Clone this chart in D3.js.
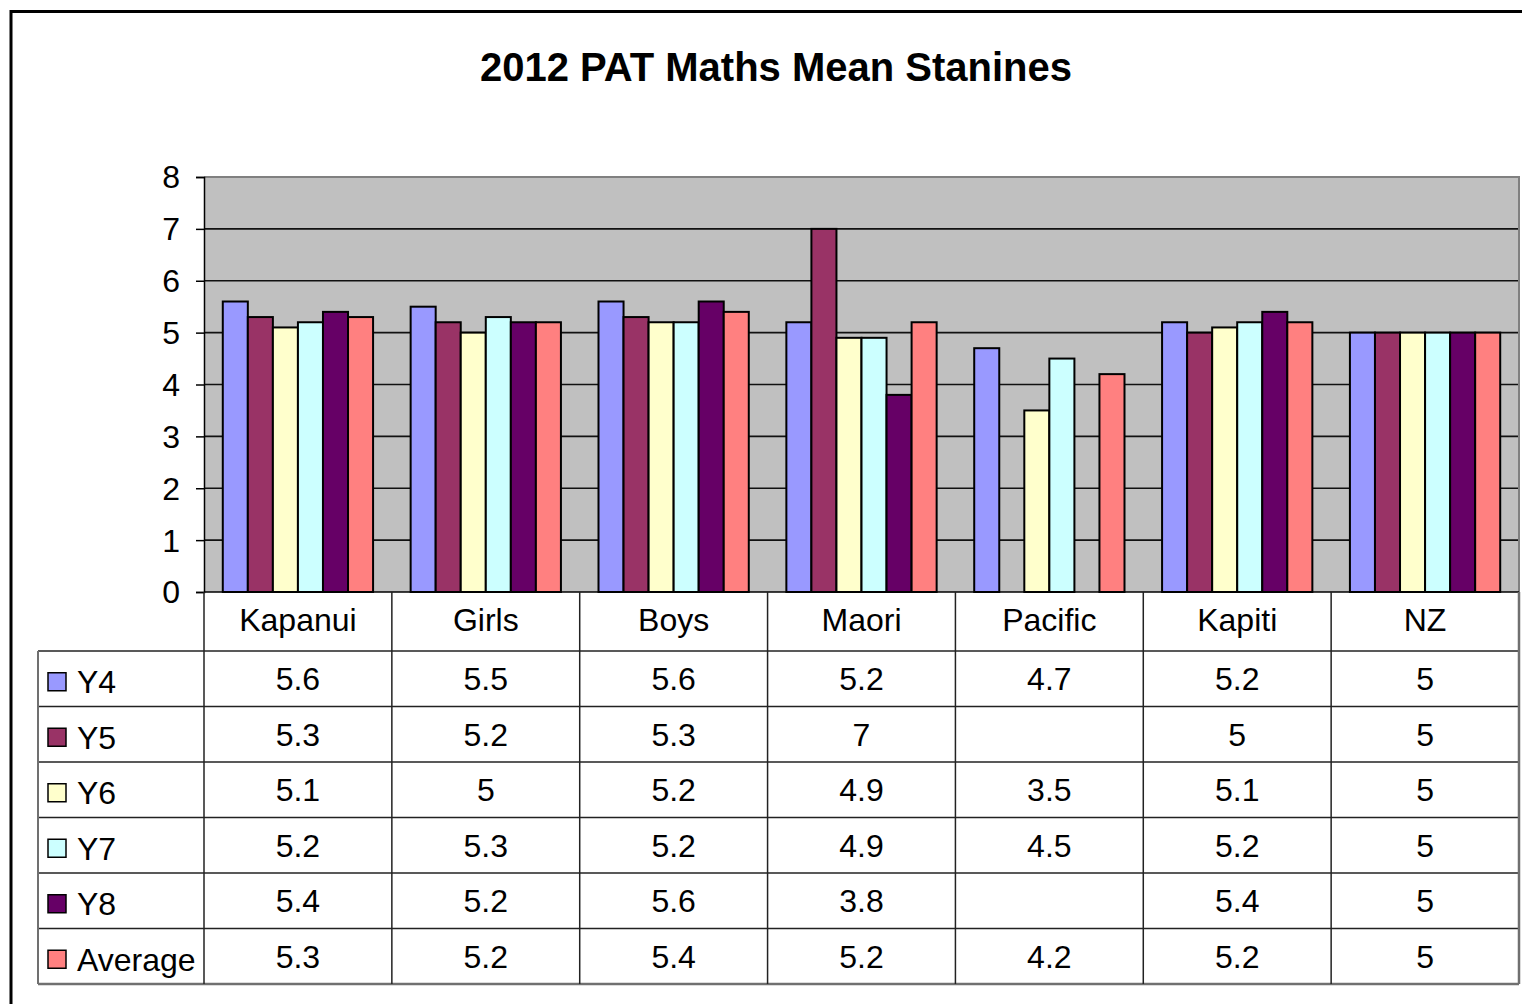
<!DOCTYPE html>
<html>
<head>
<meta charset="utf-8">
<script src="https://cdn.jsdelivr.net/npm/d3@7"></script>
<style>
  html, body { margin: 0; padding: 0; background: #fff; }
  svg { display: block; }
  text { font-family: "Liberation Sans", Arial, sans-serif; fill: #000; }
</style>
</head>
<body>
<svg id="chart" width="1522" height="1004"></svg>
<script>
// Mean stanines per group and year level (null = no data)
const categories = ["Kapanui", "Girls", "Boys", "Maori", "Pacific", "Kapiti", "NZ"];
const seriesNames = ["Y4", "Y5", "Y6", "Y7", "Y8", "Average"];
const y4 = [5.6, 5.5, 5.6, 5.2, 4.7, 5.2, 5];
const y5 = [5.3, 5.2, 5.3, 7, null, 5, 5];
const y6 = [5.1, 5, 5.2, 4.9, 3.5, 5.1, 5];
const y7 = [5.2, 5.3, 5.2, 4.9, 4.5, 5.2, 5];
const y8 = [5.4, 5.2, 5.6, 3.8, null, 5.4, 5];
const average = [5.3, 5.2, 5.4, 5.2, 4.2, 5.2, 5];
const yTicks = [0, 1, 2, 3, 4, 5, 6, 7, 8];
const colors = ["#9999FF", "#993366", "#FFFFCC", "#CCFFFF", "#660066", "#FF8080"];

const seriesValues = [y4, y5, y6, y7, y8, average];
const series = seriesNames.map((name, i) => ({ name, values: seriesValues[i], color: colors[i] }));

const svg = d3.select("#chart");

// Outer chart frame
svg.append("rect")
  .attr("x", 11).attr("y", 11.5)
  .attr("width", 1540).attr("height", 1020)
  .attr("fill", "#fff").attr("stroke", "#000").attr("stroke-width", 3);

// Title
svg.append("text")
  .attr("x", 776).attr("y", 81)
  .attr("text-anchor", "middle")
  .attr("font-size", 40).attr("font-weight", "bold")
  .text("2012 PAT Maths Mean Stanines");

const plot = { left: 204, right: 1519, top: 177, bottom: 592 };

const x = d3.scaleBand().domain(categories).range([plot.left, plot.right]).padding(0);
const xInner = d3.scaleBand().domain(seriesNames).range([0, x.bandwidth()])
  .paddingInner(0).paddingOuter(0.75);
const y = d3.scaleLinear().domain([0, 8]).range([plot.bottom, plot.top]);

// Plot background
svg.append("rect")
  .attr("x", plot.left).attr("y", plot.top)
  .attr("width", plot.right - plot.left).attr("height", plot.bottom - plot.top)
  .attr("fill", "#C0C0C0");

// Horizontal gridlines
svg.append("g")
  .selectAll("line")
  .data(yTicks.filter(t => t > 0 && t < 8))
  .join("line")
  .attr("x1", plot.left).attr("x2", plot.right)
  .attr("y1", d => y(d)).attr("y2", d => y(d))
  .attr("stroke", "#111").attr("stroke-width", 1.6);

// Plot border (grey)
svg.append("path")
  .attr("d", `M${plot.left},${plot.top}H${plot.right}V${plot.bottom}`)
  .attr("fill", "none").attr("stroke", "#808080").attr("stroke-width", 2);

// Bars
const groups = svg.append("g").selectAll("g")
  .data(series)
  .join("g")
  .attr("fill", d => d.color);

groups.selectAll("rect")
  .data(s => s.values.map((v, i) => ({ cat: categories[i], v, name: s.name })).filter(d => d.v != null))
  .join("rect")
  .attr("x", d => x(d.cat) + xInner(d.name))
  .attr("width", xInner.bandwidth())
  .attr("y", d => y(d.v))
  .attr("height", d => y(0) - y(d.v))
  .attr("stroke", "#000").attr("stroke-width", 2);

// Y axis
const yAxis = d3.axisLeft(y).tickValues(yTicks).tickSize(8).tickPadding(16).tickFormat(d3.format("d"));
const gy = svg.append("g").attr("transform", `translate(${plot.left},0)`).call(yAxis);
gy.select(".domain").attr("stroke", "#000").attr("stroke-width", 1.5);
gy.selectAll(".tick line").attr("stroke", "#000").attr("stroke-width", 1.5);
gy.selectAll(".tick text")
  .attr("font-size", 32)
  .attr("font-family", "'Liberation Sans', Arial, sans-serif")
  .attr("fill", "#000")
  .attr("dy", "0.34em");

// Baseline
svg.append("line")
  .attr("x1", plot.left).attr("x2", plot.right)
  .attr("y1", y(0)).attr("y2", y(0))
  .attr("stroke", "#000").attr("stroke-width", 1.5);

// Data table below the axis
const table = { left: 38, headerBottom: 651, bottom: 984 };
const rowH = (table.bottom - table.headerBottom) / series.length;
const tbl = svg.append("g");

// Category header labels
tbl.selectAll("text.cat")
  .data(categories)
  .join("text")
  .attr("class", "cat")
  .attr("x", d => x(d) + x.bandwidth() / 2)
  .attr("y", (plot.bottom + table.headerBottom) / 2 - 2)
  .attr("dy", "0.36em")
  .attr("text-anchor", "middle")
  .attr("font-size", 32)
  .text(d => d);

// Horizontal row lines
const rowLines = d3.range(series.length + 1).map(i => table.headerBottom + i * rowH);
tbl.selectAll("line.row")
  .data(rowLines)
  .join("line")
  .attr("x1", table.left).attr("x2", plot.right)
  .attr("y1", d => d).attr("y2", d => d)
  .attr("stroke", (d, i) => i === series.length ? "#707070" : "#222")
  .attr("stroke-width", (d, i) => i === series.length ? 2.5 : 1.5);

// Vertical column lines
const colLines = categories.map(c => x(c)).concat([plot.right]);
tbl.selectAll("line.col")
  .data(colLines)
  .join("line")
  .attr("x1", d => d).attr("x2", d => d)
  .attr("y1", plot.bottom).attr("y2", table.bottom)
  .attr("stroke", (d, i) => i === colLines.length - 1 ? "#707070" : "#222")
  .attr("stroke-width", (d, i) => i === colLines.length - 1 ? 2.5 : 1.5);

tbl.append("line")
  .attr("x1", table.left).attr("x2", table.left)
  .attr("y1", table.headerBottom).attr("y2", table.bottom)
  .attr("stroke", "#707070").attr("stroke-width", 2);

// Row legend keys and labels, plus values
const rows = tbl.selectAll("g.r")
  .data(series)
  .join("g")
  .attr("class", "r")
  .attr("transform", (d, i) => `translate(0,${table.headerBottom + i * rowH + rowH / 2})`);

rows.append("rect")
  .attr("x", 48).attr("y", -6)
  .attr("width", 18).attr("height", 18)
  .attr("fill", d => d.color)
  .attr("stroke", "#000").attr("stroke-width", 1.5);

rows.append("text")
  .attr("x", 77).attr("y", 3)
  .attr("dy", "0.36em")
  .attr("font-size", 32)
  .text(d => d.name);

rows.selectAll("text.v")
  .data(d => d.values.map((v, i) => ({ v, cat: categories[i] })))
  .join("text")
  .attr("class", "v")
  .attr("x", d => x(d.cat) + x.bandwidth() / 2)
  .attr("y", 0)
  .attr("dy", "0.36em")
  .attr("text-anchor", "middle")
  .attr("font-size", 32)
  .text(d => d.v == null ? "" : String(d.v));
</script>
</body>
</html>
